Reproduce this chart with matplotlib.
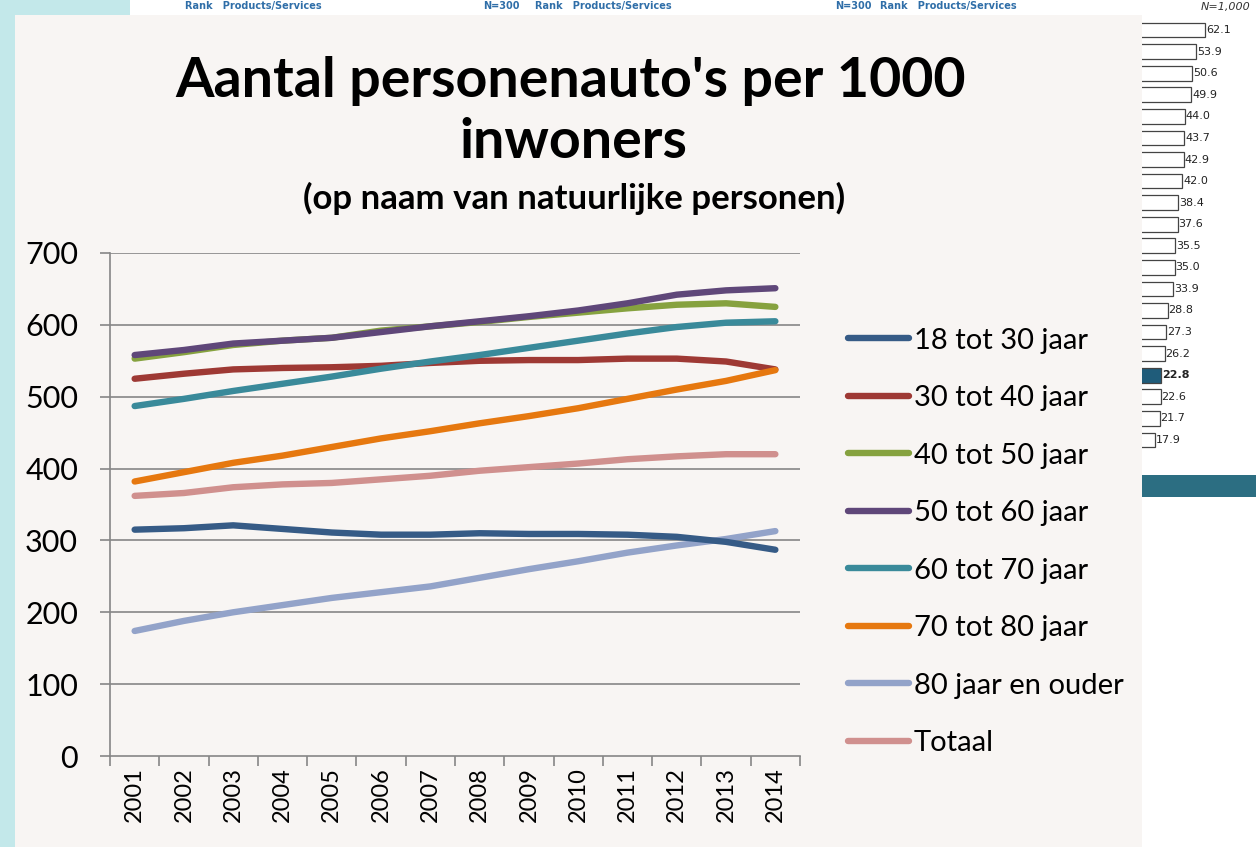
import matplotlib
matplotlib.use("Agg")
import matplotlib.pyplot as plt
from matplotlib.patches import Rectangle

W, H = 1256, 847

years = ["2001", "2002", "2003", "2004", "2005", "2006", "2007",
         "2008", "2009", "2010", "2011", "2012", "2013", "2014"]

series_names = ["18 tot 30 jaar", "30 tot 40 jaar", "40 tot 50 jaar", "50 tot 60 jaar",
                "60 tot 70 jaar", "70 tot 80 jaar", "80 jaar en ouder", "Totaal"]

age_18_30 = [315, 317, 321, 316, 311, 308, 308, 310, 309, 309, 308, 305, 298, 287]
age_30_40 = [525, 532, 538, 540, 541, 543, 547, 550, 551, 551, 553, 553, 549, 538]
age_40_50 = [553, 562, 572, 578, 582, 592, 598, 604, 611, 617, 623, 628, 630, 625]
age_50_60 = [558, 565, 574, 578, 582, 590, 598, 605, 612, 620, 630, 642, 648, 651]
age_60_70 = [487, 497, 508, 518, 528, 539, 549, 558, 568, 578, 588, 597, 603, 605]
age_70_80 = [382, 395, 408, 418, 430, 442, 452, 463, 473, 484, 497, 510, 522, 537]
age_80_plus = [174, 188, 200, 210, 220, 228, 236, 248, 260, 271, 283, 293, 302, 313]
totaal = [362, 366, 374, 378, 380, 385, 390, 397, 402, 407, 413, 417, 420, 420]

# fragment of another chart visible at the right edge of the screenshot
side_values = [62.1, 53.9, 50.6, 49.9, 44.0, 43.7, 42.9, 42.0, 38.4, 37.6,
               35.5, 35.0, 33.9, 28.8, 27.3, 26.2, 22.8, 22.6, 21.7, 17.9]

colors = ["#365B86", "#9E3934", "#86A23F", "#5F4779",
          "#3A8A9A", "#E6780F", "#93A3C9", "#D0908E"]


def box(x0, y0, x1, y1):
    # pixel box -> figure fraction rect
    return [x0 / W, 1 - y1 / H, (x1 - x0) / W, (y1 - y0) / H]


def bg(x0, y0, x1, y1, color):
    fig.patches.append(Rectangle((x0 / W, 1 - y1 / H), (x1 - x0) / W, (y1 - y0) / H,
                                 transform=fig.transFigure, facecolor=color,
                                 edgecolor="none", zorder=-10))


fig = plt.figure(figsize=(W / 100, H / 100), dpi=100)
fig.patch.set_facecolor("white")

# screenshot background pieces
bg(0, 0, 15, H, "#C3E8EA")
bg(0, 0, 130, 15, "#C3E8EA")
bg(15, 15, 1142, H, "#F8F5F3")
bg(1142, 475, W, 497, "#2C6E82")
for x, s in [(185, "Rank   Products/Services"), (483, "N=300"),
             (535, "Rank   Products/Services"), (835, "N=300"),
             (880, "Rank   Products/Services")]:
    fig.text(x / W, 1 - 6 / H, s, color="#2F6EA8", fontsize=7, va="center",
             fontweight="bold", zorder=-5)
fig.text(1250 / W, 1 - 7 / H, "N=1,000", fontsize=8, style="italic", ha="right",
         va="center", color="#333333")

# side bars (their left part is hidden behind the chart panel)
side = fig.add_axes(box(1142, 15, W, 455))
side.barh(range(len(side_values)), side_values, height=0.68,
          color=["#1F5C7A" if v == 22.8 else "white" for v in side_values],
          edgecolor="#444444", linewidth=0.9)
for i, v in enumerate(side_values):
    side.text(v + 0.8, i, f"{v:.1f}", va="center", fontsize=8,
              fontweight="bold" if v == 22.8 else "normal", color="#222222")
side.set_xlim(6.2, 107)
side.set_ylim(len(side_values) - 0.3, -0.7)
side.axis("off")

# main panel
ax = fig.add_axes(box(110, 253, 800, 756))
ax.set_facecolor("none")
x = list(range(len(years)))
all_series = [age_18_30, age_30_40, age_40_50, age_50_60,
              age_60_70, age_70_80, age_80_plus, totaal]
draw_order = [7, 6, 0, 1, 5, 4, 2, 3]
lines = {}
for i in draw_order:
    ln, = ax.plot(x, all_series[i], color=colors[i], linewidth=4.6,
                  solid_capstyle="round", solid_joinstyle="round", zorder=3)
    lines[i] = ln

ax.set_xlim(-0.5, len(years) - 0.5)
ax.set_ylim(0, 700)
ax.set_yticks(range(0, 701, 100))
for v in range(100, 701, 100):
    ax.axhline(v, color="#868686", linewidth=1.2, zorder=1)

ax.set_xticks([i - 0.5 for i in range(len(years) + 1)])
ax.set_xticklabels([])
ax.set_xticks(x, minor=True)
ax.set_xticklabels(years, minor=True, rotation=90, fontsize=17, family="Lato")
ax.tick_params(axis="x", which="minor", length=0, pad=8)
ax.tick_params(axis="x", which="major", length=7, width=1.2, color="#868686")
ax.tick_params(axis="y", length=7, width=1.2, color="#868686", labelsize=22, pad=16)
for t in ax.get_yticklabels():
    t.set_family("Lato")

for sp in ["top", "right"]:
    ax.spines[sp].set_visible(False)
for sp in ["left", "bottom"]:
    ax.spines[sp].set_color("#868686")
    ax.spines[sp].set_linewidth(1.2)

fig.legend([lines[i] for i in range(8)], series_names, loc="upper left",
           bbox_to_anchor=(836 / W, 1 - 316 / H), frameon=False,
           prop={"family": "Lato", "size": 21}, handlelength=2.1,
           handletextpad=0.17, labelspacing=1.08, borderaxespad=0)

fig.text(571 / W, 1 - 81 / H, "Aantal personenauto's per 1000", ha="center",
         va="center", fontsize=40, fontweight="bold", family="Lato")
fig.text(573 / W, 1 - 142 / H, "inwoners", ha="center", va="center",
         fontsize=40, fontweight="bold", family="Lato")
fig.text(574 / W, 1 - 198 / H, "(op naam van natuurlijke personen)", ha="center",
         va="center", fontsize=25, fontweight="bold", family="Lato")

fig.savefig("out.png", dpi=100, facecolor=fig.get_facecolor())
